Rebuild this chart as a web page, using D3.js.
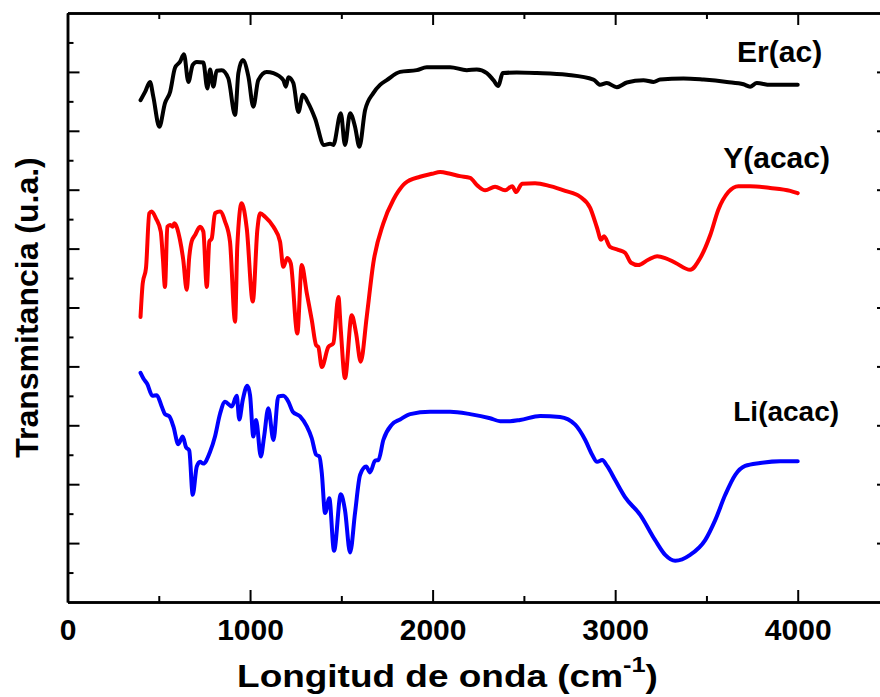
<!DOCTYPE html>
<html>
<head>
<meta charset="utf-8">
<script src="https://cdn.jsdelivr.net/npm/d3@7"></script>
<style>
  html, body { margin: 0; padding: 0; background: #fff; }
  svg { display: block; font-family: 'Liberation Sans', Arial, sans-serif; font-weight: bold; }
</style>
</head>
<body>
<div id="chart"></div>
<script>
// Er(ac) spectrum
const erWave = [400, 425, 452, 470, 503, 534, 562, 589, 616, 638, 662, 686, 708, 744, 766, 781, 799, 817, 845, 881,
  918, 936, 960, 991, 1018, 1045, 1091, 1128, 1182, 1196, 1210, 1237, 1265, 1289, 1319, 1356, 1405, 1438, 1456, 1497,
  1520, 1548, 1575, 1599, 1630, 1675, 1712, 1749, 1822, 1913, 1968, 2096, 2187, 2242, 2297, 2333, 2360, 2384, 2461,
  2571, 2735, 2881, 2918, 2954, 3009, 3064, 3155, 3210, 3246, 3374, 3484, 3612, 3703, 3739, 3776, 3849, 4000];
const erT = [8.52, 8.66, 8.83, 8.58, 8.07, 8.47, 8.66, 9.07, 9.17, 9.30, 8.83, 9.12, 9.17, 9.16, 8.72, 9.04, 8.75, 9.02, 9.03, 8.89,
  8.27, 8.98, 9.20, 8.92, 8.41, 8.86, 9.00, 8.98, 8.86, 8.75, 8.91, 8.81, 8.32, 8.61, 8.47, 8.21, 7.76, 7.78, 7.76, 8.30,
  7.76, 8.30, 8.07, 7.73, 8.35, 8.64, 8.78, 8.86, 9.00, 9.03, 9.08, 9.08, 9.03, 9.04, 8.98, 8.86, 8.76, 8.98, 8.99,
  8.98, 8.95, 8.87, 8.78, 8.81, 8.74, 8.82, 8.86, 8.83, 8.87, 8.89, 8.87, 8.83, 8.79, 8.75, 8.81, 8.78, 8.78];

// Y(acac) spectrum
const yWave = [400, 412, 430, 448, 461, 485, 511, 522, 534, 547, 562, 576, 585, 616, 634, 653, 667, 680, 699, 726,
  744, 763, 777, 790, 808, 836, 863, 890, 918, 930, 954, 982, 1015, 1040, 1055, 1082, 1128, 1164, 1182, 1204,
  1223, 1259, 1283, 1311, 1338, 1362, 1374, 1393, 1429, 1456, 1484, 1497, 1520, 1557, 1581, 1606, 1639, 1675, 1730,
  1785, 1812, 1849, 1931, 1997, 2041, 2096, 2150, 2205, 2249, 2288, 2342, 2397, 2436, 2457, 2490, 2561, 2644, 2726,
  2808, 2863, 2901, 2923, 2939, 2972, 3016, 3054, 3087, 3126, 3181, 3230, 3274, 3329, 3411, 3466, 3521, 3565, 3620,
  3675, 3739, 3849, 3959, 4000];
const yT = [4.84, 5.41, 5.67, 6.60, 6.63, 6.51, 6.29, 5.86, 5.35, 6.37, 6.40, 6.37, 6.43, 6.15, 5.81, 5.30, 5.86, 6.12, 6.23, 6.37,
  6.29, 5.35, 6.12, 6.17, 6.60, 6.63, 6.46, 6.12, 4.76, 6.03, 6.77, 6.34, 5.10, 6.32, 6.60, 6.54, 6.37, 6.12, 5.69, 5.84,
  5.75, 4.56, 5.72, 5.24, 4.79, 4.36, 4.33, 3.99, 4.33, 4.39, 5.18, 4.62, 3.80, 4.87, 4.56, 4.08, 4.84, 5.75, 6.43,
  6.83, 6.97, 7.11, 7.22, 7.27, 7.30, 7.27, 7.23, 7.20, 7.06, 6.99, 7.05, 6.99, 7.06, 6.96, 7.10, 7.11, 7.06, 6.98,
  6.88, 6.69, 6.35, 6.15, 6.21, 6.03, 5.98, 5.93, 5.76, 5.72, 5.81, 5.87, 5.84, 5.76, 5.64, 5.84, 6.23, 6.66, 6.96,
  7.06, 7.06, 7.03, 6.98, 6.94];

// Li(acac) spectrum
const liWave = [400, 415, 437, 465, 489, 516, 534, 558, 580, 607, 631, 649, 667, 686, 708, 726, 744, 781, 808, 836,
  863, 900, 927, 941, 960, 985, 1000, 1018, 1033, 1059, 1077, 1100, 1128, 1155, 1182, 1210, 1234, 1274, 1311, 1338,
  1362, 1380, 1393, 1411, 1434, 1460, 1497, 1520, 1548, 1575, 1603, 1636, 1657, 1685, 1703, 1730, 1776, 1822, 1877,
  1986, 2096, 2205, 2315, 2370, 2424, 2479, 2589, 2698, 2781, 2836, 2874, 2901, 2929, 2956, 3000, 3054, 3137, 3219,
  3274, 3329, 3411, 3493, 3548, 3603, 3658, 3712, 3794, 3904, 4000];
const liT = [3.89, 3.80, 3.70, 3.50, 3.51, 3.32, 3.19, 3.15, 2.98, 2.68, 2.81, 2.63, 2.57, 1.82, 2.30, 2.38, 2.35, 2.55, 2.81, 3.20,
  3.40, 3.32, 3.50, 3.10, 3.43, 3.67, 3.51, 2.81, 3.09, 2.47, 2.81, 3.29, 2.75, 3.49, 3.50, 3.40, 3.23, 3.15, 2.98, 2.78,
  2.50, 2.47, 2.19, 1.51, 1.76, 0.87, 1.83, 1.56, 0.84, 1.51, 2.16, 2.30, 2.20, 2.40, 2.41, 2.75, 3.01, 3.10, 3.19,
  3.23, 3.23, 3.19, 3.12, 3.07, 3.07, 3.09, 3.16, 3.14, 3.01, 2.75, 2.50, 2.38, 2.41, 2.31, 2.07, 1.78, 1.48, 1.05,
  0.80, 0.70, 0.80, 1.05, 1.39, 1.82, 2.16, 2.31, 2.36, 2.39, 2.39];

const xMajorTicks = [0, 1000, 2000, 3000, 4000];
const xMinorTicks = [500, 1500, 2500, 3500, 4500];
const yMajorTicks = [1, 2, 3, 4, 5, 6, 7, 8, 9];
const yMinorTicks = [0.5, 1.5, 2.5, 3.5, 4.5, 5.5, 6.5, 7.5, 8.5, 9.5];

const seriesNames = ['Er(ac)', 'Y(acac)', 'Li(acac)'];
const seriesColors = ['#000000', '#ff0000', '#0000ff'];
// label anchors in data units (wavenumber, transmittance)
const labelWave = [3668, 3592, 3647];
const labelT = [9.17, 7.37, 3.07];
const labelSize = [30, 30, 28];

const width = 880;
const height = 697;
const margin = { top: 13, right: -9, bottom: 95, left: 67.5 };
const innerW = width - margin.left - margin.right;
const innerH = height - margin.top - margin.bottom;

const svg = d3.select('#chart').append('svg')
  .attr('width', width)
  .attr('height', height);

const g = svg.append('g')
  .attr('transform', `translate(${margin.left},${margin.top})`);

const x = d3.scaleLinear().domain([0, 4500]).range([0, innerW]);
const y = d3.scaleLinear().domain([0, 10]).range([innerH, 0]);

// spectra
const line = d3.line()
  .x((d) => x(d[0]))
  .y((d) => y(d[1]))
  .curve(d3.curveMonotoneX);

const series = [d3.zip(erWave, erT), d3.zip(yWave, yT), d3.zip(liWave, liT)];

series.forEach((pts, i) => {
  g.append('path')
    .datum(pts)
    .attr('fill', 'none')
    .attr('stroke', seriesColors[i])
    .attr('stroke-width', 4)
    .attr('stroke-linejoin', 'round')
    .attr('stroke-linecap', 'round')
    .attr('d', line);

  g.append('text')
    .attr('x', x(labelWave[i]))
    .attr('y', y(labelT[i]))
    .attr('font-size', labelSize[i])
    .attr('fill', '#000')
    .text(seriesNames[i]);
});

// axes with inward ticks
function styleAxis(sel) {
  sel.select('.domain').attr('stroke', '#000').attr('stroke-width', 2.5);
  sel.selectAll('.tick line').attr('stroke', '#000').attr('stroke-width', 2);
}

g.append('g')
  .attr('transform', `translate(0,${innerH})`)
  .call(d3.axisBottom(x).tickValues(xMajorTicks).tickSize(-12).tickSizeOuter(0).tickPadding(17).tickFormat(d3.format('d')))
  .call(styleAxis)
  .call((a) => a.selectAll('text').attr('font-size', 30).attr('fill', '#000').attr('font-family', null));

g.append('g')
  .attr('transform', `translate(0,${innerH})`)
  .call(d3.axisBottom(x).tickValues(xMinorTicks).tickSize(-6).tickSizeOuter(0).tickFormat(''))
  .call(styleAxis);

g.append('g')
  .call(d3.axisTop(x).tickValues(xMajorTicks).tickSize(-12).tickSizeOuter(0).tickFormat(''))
  .call(styleAxis);

g.append('g')
  .call(d3.axisTop(x).tickValues(xMinorTicks).tickSize(-6).tickSizeOuter(0).tickFormat(''))
  .call(styleAxis);

g.append('g')
  .call(d3.axisLeft(y).tickValues(yMajorTicks).tickSize(-12).tickSizeOuter(0).tickFormat(''))
  .call(styleAxis);

g.append('g')
  .call(d3.axisLeft(y).tickValues(yMinorTicks).tickSize(-6).tickSizeOuter(0).tickFormat(''))
  .call(styleAxis);

g.append('g')
  .attr('transform', `translate(${innerW},0)`)
  .call(d3.axisRight(y).tickValues(yMajorTicks).tickSize(-12).tickSizeOuter(0).tickFormat(''))
  .call(styleAxis);

g.append('g')
  .attr('transform', `translate(${innerW},0)`)
  .call(d3.axisRight(y).tickValues(yMinorTicks).tickSize(-6).tickSizeOuter(0).tickFormat(''))
  .call(styleAxis);

// axis titles
const titleCx = 447.5;
const xTitle = svg.append('text')
  .attr('x', titleCx)
  .attr('y', 687)
  .attr('text-anchor', 'middle')
  .attr('font-size', 32)
  .attr('fill', '#000');
xTitle.append('tspan').text('Longitud de onda (cm');
xTitle.append('tspan').attr('font-size', 22).attr('dy', -15).text('-1');
xTitle.append('tspan').attr('dy', 15).text(')');

// stretch the title sideways to the reference width
const tw = xTitle.node().getBBox().width;
const sx = 421 / tw;
xTitle.attr('transform', `translate(${titleCx},0) scale(${sx},1) translate(${-titleCx},0)`);

svg.append('text')
  .attr('transform', `translate(38,${margin.top + innerH / 2}) rotate(-90)`)
  .attr('text-anchor', 'middle')
  .attr('font-size', 32)
  .attr('fill', '#000')
  .text('Transmitancia (u.a.)');
</script>
</body>
</html>
